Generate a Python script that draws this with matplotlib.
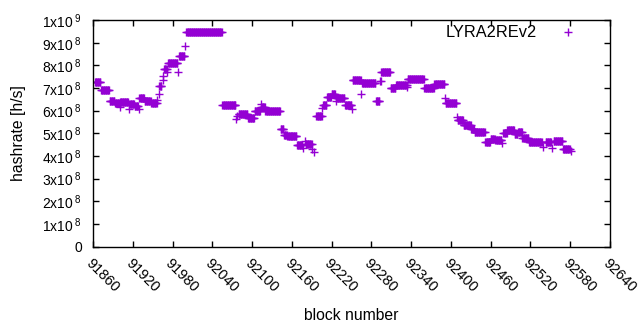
import numpy as np
import matplotlib.pyplot as plt
from matplotlib.transforms import ScaledTranslation

plt.rcParams['font.family'] = ['Liberation Sans', 'DejaVu Sans']
plt.rcParams['mathtext.default'] = 'regular'

# Runs of blocks sharing the same hashrate (start block, end block, hashrate in 1e8 h/s)
run_start = [91863, 91872, 91885, 91893, 91900, 91901, 91914, 91915, 91923, 91929,
             91930, 91938, 91948, 91957, 91959, 91960, 91965, 91966, 91967, 91972,
             91973, 91988, 91990, 91999, 92001, 92055, 92076, 92078, 92080, 92094,
             92104, 92113, 92114, 92120, 92143, 92148, 92153, 92168, 92177, 92180,
             92181, 92191, 92194, 92197, 92206, 92207, 92213, 92220, 92226, 92227,
             92240, 92251, 92252, 92265, 92266, 92287, 92293, 92295, 92309, 92317,
             92334, 92335, 92360, 92375, 92391, 92392, 92409, 92410, 92419, 92431,
             92436, 92452, 92460, 92467, 92477, 92479, 92485, 92496, 92501, 92508,
             92518, 92539, 92543, 92553, 92555, 92569, 92581]
run_end = [91871, 91884, 91892, 91899, 91900, 91913, 91914, 91922, 91928, 91929,
           91937, 91947, 91956, 91957, 91959, 91963, 91965, 91966, 91971, 91972,
           91987, 91988, 91998, 91999, 92054, 92075, 92076, 92078, 92093, 92103,
           92112, 92113, 92119, 92142, 92147, 92152, 92167, 92176, 92177, 92180,
           92190, 92191, 92194, 92205, 92206, 92212, 92219, 92225, 92226, 92239,
           92250, 92251, 92264, 92265, 92286, 92292, 92294, 92308, 92316, 92333,
           92334, 92359, 92374, 92390, 92391, 92408, 92409, 92418, 92430, 92435,
           92451, 92459, 92466, 92476, 92477, 92484, 92495, 92500, 92507, 92517,
           92537, 92539, 92551, 92553, 92568, 92579, 92581]
run_value = [7.25, 6.93, 6.43, 6.35, 6.17, 6.37, 6.06, 6.28, 6.20, 6.08,
             6.58, 6.42, 6.32, 6.45, 6.73, 7.07, 7.35, 7.53, 7.82, 7.72,
             8.09, 7.73, 8.40, 8.85, 9.48, 6.23, 5.62, 5.76, 5.84, 5.67,
             6.00, 6.29, 6.16, 6.00, 5.20, 4.92, 4.87, 4.47, 4.33, 4.67,
             4.52, 4.29, 4.19, 5.78, 6.10, 6.26, 6.61, 6.73, 6.42, 6.56,
             6.23, 6.06, 7.34, 6.73, 7.24, 6.41, 7.30, 7.72, 6.98, 7.12,
             7.03, 7.38, 7.02, 7.16, 6.54, 6.32, 5.70, 5.58, 5.35, 5.20,
             5.04, 4.60, 4.75, 4.70, 4.58, 5.01, 5.16, 4.95, 5.04, 4.78,
             4.60, 4.41, 4.60, 4.34, 4.67, 4.29, 4.20]

# Expand runs to one point per block
blocks = []
hashrate = []
for s, e, v in zip(run_start, run_end, run_value):
    for b in range(s, e + 1):
        blocks.append(b)
        hashrate.append(v * 1e8)

fig = plt.figure(figsize=(6.4, 3.3), dpi=100)
ax = fig.add_axes([0.1453, 0.253, 0.8078, 0.686])

ax.plot(blocks, hashrate, '+', color='#9400D3', markersize=5.5, mew=1.0, label='LYRA2REv2')

ax.set_xlim(91860, 92640)
ax.set_ylim(0, 1e9)

xt = np.arange(91860, 92641, 60)
ax.set_xticks(xt)
ax.set_xticklabels([str(x) for x in xt], rotation=-45, ha='left', va='top',
                   rotation_mode='anchor', fontsize=10.5)
for lab in ax.get_xticklabels():
    lab.set_transform(lab.get_transform() + ScaledTranslation(7 / 72, 0, fig.dpi_scale_trans))

yt = np.arange(0, 11) * 1e8
ylabels = ['0'] + [r'%dx10$^{\;8}$' % i for i in range(1, 10)] + [r'1x10$^{\;9}$']
ax.set_yticks(yt)
ax.set_yticklabels(ylabels, fontsize=10)

ax.tick_params(direction='in', length=4, width=1, top=True, right=True)
ax.tick_params(axis='y', pad=8)
ax.tick_params(axis='x', pad=7)
for sp in ax.spines.values():
    sp.set_linewidth(1)

ax.set_xlabel('block number', fontsize=11.3)
ax.xaxis.set_label_coords(0.5, -0.27)
ax.set_ylabel('hashrate [h/s]', fontsize=11.3)
ax.yaxis.set_label_coords(-0.13, 0.5)

ax.legend(loc='upper right', markerfirst=False, frameon=False, fontsize=11.8,
          handlelength=1.5, handletextpad=1.2, borderaxespad=0.0,
          bbox_to_anchor=(0.956, 1.006))

fig.savefig('out.png', dpi=100)
